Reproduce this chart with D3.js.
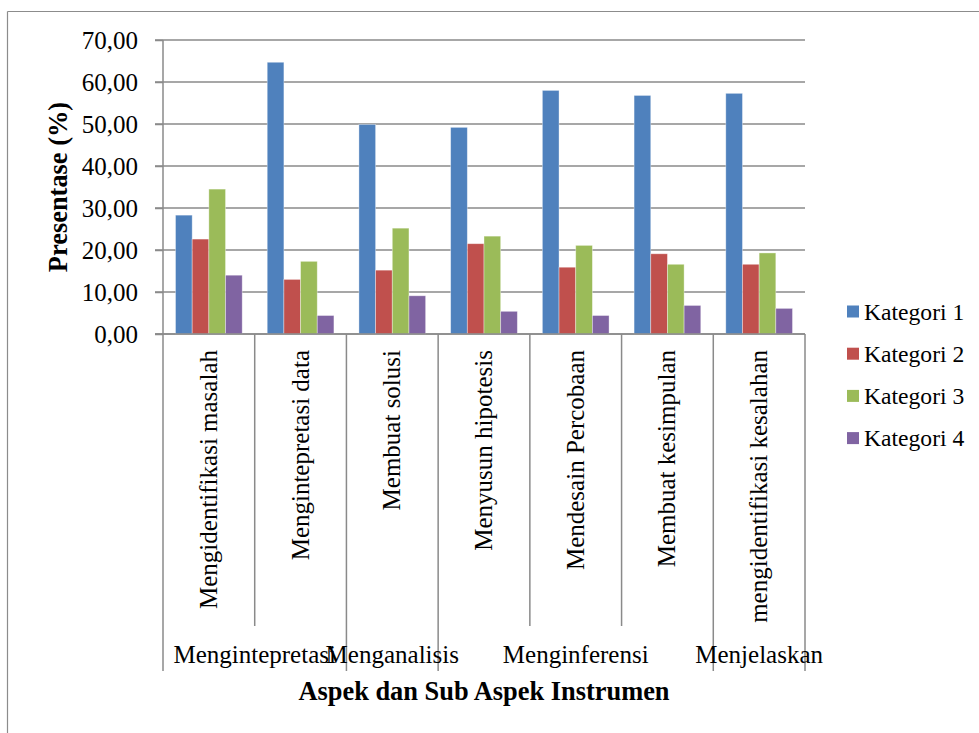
<!DOCTYPE html>
<html>
<head>
<meta charset="utf-8">
<script src="https://cdn.jsdelivr.net/npm/d3@7"></script>
<style>
  body { margin: 0; background: #fff; }
  svg { display: block; }
  svg text { font-family: "Liberation Serif", "Times New Roman", serif !important; fill: #000; }
</style>
</head>
<body>
<svg id="chart"></svg>
<script>
// data
const subAspects = [
  "Mengidentifikasi masalah",
  "Mengintepretasi data",
  "Membuat solusi",
  "Menyusun hipotesis",
  "Mendesain Percobaan",
  "Membuat kesimpulan",
  "mengidentifikasi kesalahan"
];
const aspectOf = [
  "Mengintepretasi", "Mengintepretasi",
  "Menganalisis",
  "Menginferensi", "Menginferensi", "Menginferensi",
  "Menjelaskan"
];
const seriesNames = ["Kategori 1", "Kategori 2", "Kategori 3", "Kategori 4"];
const kategori1 = [28.3, 64.7, 49.9, 49.2, 58.0, 56.8, 57.3];
const kategori2 = [22.6, 13.0, 15.2, 21.5, 15.9, 19.1, 16.6];
const kategori3 = [34.5, 17.3, 25.2, 23.3, 21.1, 16.6, 19.3];
const kategori4 = [14.0, 4.4, 9.1, 5.4, 4.4, 6.8, 6.1];
const yTicks = [0, 10, 20, 30, 40, 50, 60, 70];

const colors = ["#4F81BD", "#C0504D", "#9BBB59", "#8064A2"];
const lineColor = "#8a8a8a";

const W = 979, H = 733;
const plot = {left: 163, right: 805, top: 40, bottom: 334};

const svg = d3.select("#chart").attr("width", W).attr("height", H);

// outer chart border (top and left only visible)
svg.append("line").attr("x1", 7.5).attr("x2", W).attr("y1", 11.5).attr("y2", 11.5)
  .attr("stroke", "#8c8c8c").attr("stroke-width", 1.2);
svg.append("line").attr("x1", 7.5).attr("x2", 7.5).attr("y1", 11.5).attr("y2", H)
  .attr("stroke", "#8c8c8c").attr("stroke-width", 1.2);

const x = d3.scaleBand().domain(subAspects).range([plot.left, plot.right]).padding(0);
const x1 = d3.scaleBand().domain(seriesNames).range([0, x.bandwidth()])
  .paddingInner(0).paddingOuter(0.75);
const y = d3.scaleLinear().domain([0, 70]).range([plot.bottom, plot.top]);

// gridlines
svg.append("g").selectAll("line").data(yTicks).join("line")
  .attr("x1", plot.left - 8).attr("x2", plot.right)
  .attr("y1", d => y(d)).attr("y2", d => y(d))
  .attr("stroke", lineColor).attr("stroke-width", 1.5);

// y axis
const yAxis = svg.append("g")
  .attr("transform", `translate(${plot.left},0)`)
  .call(d3.axisLeft(y).tickValues(yTicks).tickSize(8).tickPadding(17)
    .tickFormat(d => d.toFixed(2).replace(".", ",")));
yAxis.attr("font-family", null);
yAxis.select(".domain").remove();
yAxis.selectAll(".tick line").attr("stroke", lineColor).attr("stroke-width", 1.5);
yAxis.selectAll(".tick text").attr("font-size", "25px");

// bars
const series = [kategori1, kategori2, kategori3, kategori4];
const rows = subAspects.map((s, i) => ({
  name: s,
  values: seriesNames.map((k, j) => ({key: k, value: series[j][i], color: colors[j]}))
}));

const groups = svg.append("g").selectAll("g").data(rows).join("g")
  .attr("transform", d => `translate(${x(d.name)},0)`);
groups.selectAll("rect").data(d => d.values).join("rect")
  .attr("x", d => x1(d.key))
  .attr("width", x1.bandwidth())
  .attr("y", d => y(d.value))
  .attr("height", d => y(0) - y(d.value))
  .attr("fill", d => d.color)
  .attr("stroke", "rgba(255,255,255,0.45)")
  .attr("stroke-width", 0.8);

// axis lines
const lineLong = 671, lineShort = 626;
svg.append("line").attr("x1", plot.left).attr("x2", plot.left)
  .attr("y1", plot.top).attr("y2", lineLong)
  .attr("stroke", lineColor).attr("stroke-width", 1.5);
svg.append("line").attr("x1", plot.left - 8).attr("x2", plot.right)
  .attr("y1", plot.bottom).attr("y2", plot.bottom)
  .attr("stroke", lineColor).attr("stroke-width", 1.5);

// category boundary lines
const bounds = d3.range(1, subAspects.length + 1);
svg.append("g").selectAll("line").data(bounds).join("line")
  .attr("x1", i => plot.left + i * x.step())
  .attr("x2", i => plot.left + i * x.step())
  .attr("y1", plot.bottom)
  .attr("y2", i => (i === subAspects.length || aspectOf[i] !== aspectOf[i - 1]) ? lineLong : lineShort)
  .attr("stroke", lineColor).attr("stroke-width", 1.5);

// sub-aspect labels (rotated)
svg.append("g").selectAll("text").data(subAspects).join("text")
  .attr("transform", d => `translate(${x(d) + x.bandwidth() / 2},350) rotate(-90)`)
  .attr("text-anchor", "end")
  .attr("dy", "0.32em")
  .attr("font-size", "25px")
  .text(d => d);

// aspect labels
const aspects = Array.from(new Set(aspectOf));
svg.append("g").selectAll("text").data(aspects).join("text")
  .attr("x", a => {
    const idx = subAspects.filter((s, i) => aspectOf[i] === a);
    return (x(idx[0]) + x(idx[idx.length - 1]) + x.bandwidth()) / 2;
  })
  .attr("y", 663)
  .attr("text-anchor", "middle")
  .attr("font-size", "25px")
  .text(a => a);

// axis titles
svg.append("text")
  .attr("transform", `translate(58,${(plot.top + plot.bottom) / 2}) rotate(-90)`)
  .attr("text-anchor", "middle")
  .attr("dy", "0.35em")
  .attr("font-size", "26.4px")
  .attr("font-weight", "bold")
  .text("Presentase (%)");

svg.append("text")
  .attr("x", (plot.left + plot.right) / 2)
  .attr("y", 700)
  .attr("text-anchor", "middle")
  .attr("font-size", "26.4px")
  .attr("font-weight", "bold")
  .text("Aspek dan Sub Aspek Instrumen");

// legend
const legend = svg.append("g").selectAll("g").data(seriesNames).join("g")
  .attr("transform", (d, i) => `translate(847,${311.5 + i * 42.2})`);
legend.append("rect").attr("x", 0).attr("y", -6).attr("width", 12).attr("height", 12)
  .attr("fill", (d, i) => colors[i]);
legend.append("text").attr("x", 17).attr("dy", "0.35em")
  .attr("font-size", "23.6px")
  .text(d => d);
</script>
</body>
</html>
